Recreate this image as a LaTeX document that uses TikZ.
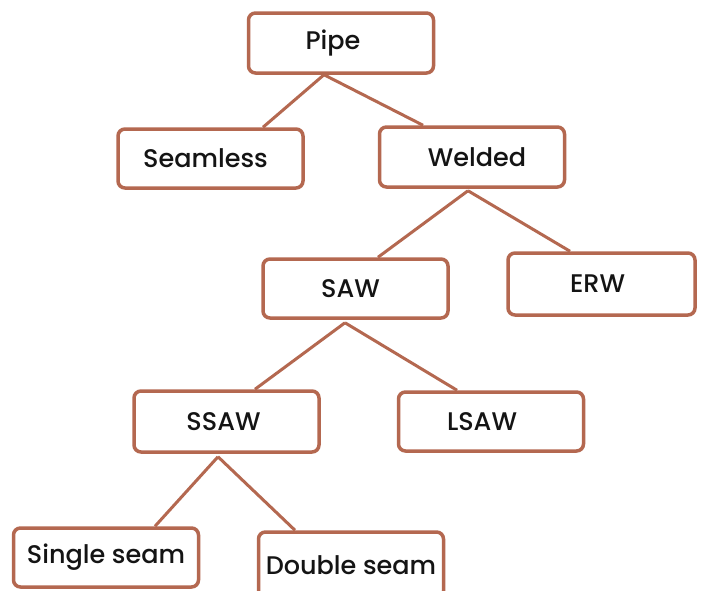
\documentclass[tikz,border=0pt]{standalone}
\usepackage{fontspec}
\setmainfont{Poppins}[UprightFont=* Medium]
\definecolor{boxbrown}{RGB}{180,104,80}
\newcommand{\shiftL}[1]{\hspace*{#1}}
\begin{document}
\begin{tikzpicture}[x=1pt,y=-1pt,
  box/.style={draw=boxbrown, line width=3.5pt, rounded corners=7pt, fill=white,
    minimum width=185pt, minimum height=59pt, inner sep=0pt,
    font=\fontsize{25.5}{28}\selectfont, text=black!92},
  link/.style={draw=boxbrown, line width=3pt}]
\useasboundingbox (0,0) rectangle (702,590);
\fill[white] (0,0) rectangle (702,590);
\node[box, minimum height=60pt] (pipe) at (341,43) {\shiftL{-16pt}Pipe};
\node[box] (seamless) at (210.5,158.5) {\shiftL{-10pt}Seamless};
\node[box, minimum height=60pt] (welded) at (472,157) {\shiftL{10pt}Welded};
\node[box] (saw) at (355.5,288.5) {\shiftL{-10pt}SAW};
\node[box, minimum width=187pt, minimum height=62pt] (erw) at (601.5,284) {\shiftL{-8pt}ERW};
\node[box, minimum height=61pt] (ssaw) at (226.5,421.5) {\shiftL{-6pt}SSAW};
\node[box] (lsaw) at (491,421.5) {\shiftL{-18pt}LSAW};
\node[box] (single) at (106,557.5) {Single seam};
\node[box, minimum height=66pt] (double) at (351,565) {Double seam};
\draw[link] ([xshift=-17pt]pipe.south) -- ([xshift=52.5pt]seamless.north);
\draw[link] ([xshift=-17pt]pipe.south) -- ([xshift=-49pt]welded.north);
\draw[link] ([xshift=-4pt,yshift=-2pt]welded.south) -- ([xshift=22.5pt]saw.north);
\draw[link] ([xshift=-4pt,yshift=-2pt]welded.south) -- ([xshift=-31.5pt]erw.north);
\draw[link] ([xshift=-10.5pt,yshift=-3pt]saw.south) -- ([xshift=28.5pt]ssaw.north);
\draw[link] ([xshift=-10.5pt,yshift=-3pt]saw.south) -- ([xshift=-34pt]lsaw.north);
\draw[link] ([xshift=-8.5pt,yshift=-3pt]ssaw.south) -- ([xshift=49pt]single.north);
\draw[link] ([xshift=-8.5pt,yshift=-3pt]ssaw.south) -- ([xshift=-56pt]double.north);
\end{tikzpicture}
\end{document}
